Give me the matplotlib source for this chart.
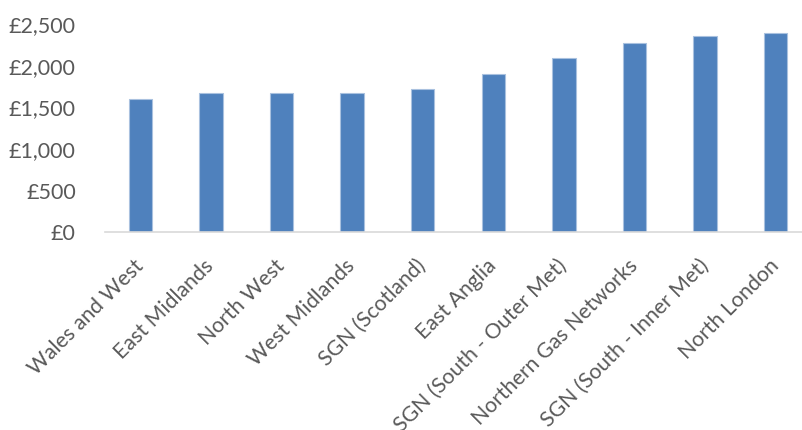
import matplotlib.pyplot as plt
from matplotlib.ticker import FuncFormatter

# distribution network areas and values (GBP)
regions = ["Wales and West", "East Midlands", "North West", "West Midlands",
           "SGN (Scotland)", "East Anglia", "SGN (South - Outer Met)",
           "Northern Gas Networks", "SGN (South - Inner Met)", "North London"]
values = [1600, 1670, 1670, 1670, 1720, 1900, 2090, 2270, 2350, 2390]
yticks = [0, 500, 1000, 1500, 2000, 2500]

plt.rcParams['font.family'] = ['Lato', 'DejaVu Sans']

fig = plt.figure(figsize=(8.02, 4.30), dpi=100)
ax = fig.add_axes([105/802, 1-232.3/430, 706/802, (232.3-24)/430])

x = range(len(regions))
ax.bar(x, values, width=0.33, color='#4F81BD', edgecolor='#A9C1DF', linewidth=0.8)

ax.set_xlim(-0.5, len(regions)-0.5)
ax.set_ylim(0, 2500)
ax.set_yticks(yticks)
ax.yaxis.set_major_formatter(FuncFormatter(lambda v, p: "£{:,.0f}".format(v)))
ax.set_xticks(list(x))
ax.set_xticklabels(regions, rotation=45, ha='right', va='center', rotation_mode='anchor')

for s in ['top', 'right', 'left']:
    ax.spines[s].set_visible(False)
ax.spines['bottom'].set_color('#D9D9D9')
ax.spines['bottom'].set_linewidth(1.2)
ax.tick_params(axis='both', length=0, colors='#595959')
ax.tick_params(axis='y', pad=21, labelsize=15.5)
ax.tick_params(axis='x', pad=22, labelsize=15.3)

fig.savefig('out.png', dpi=100)
